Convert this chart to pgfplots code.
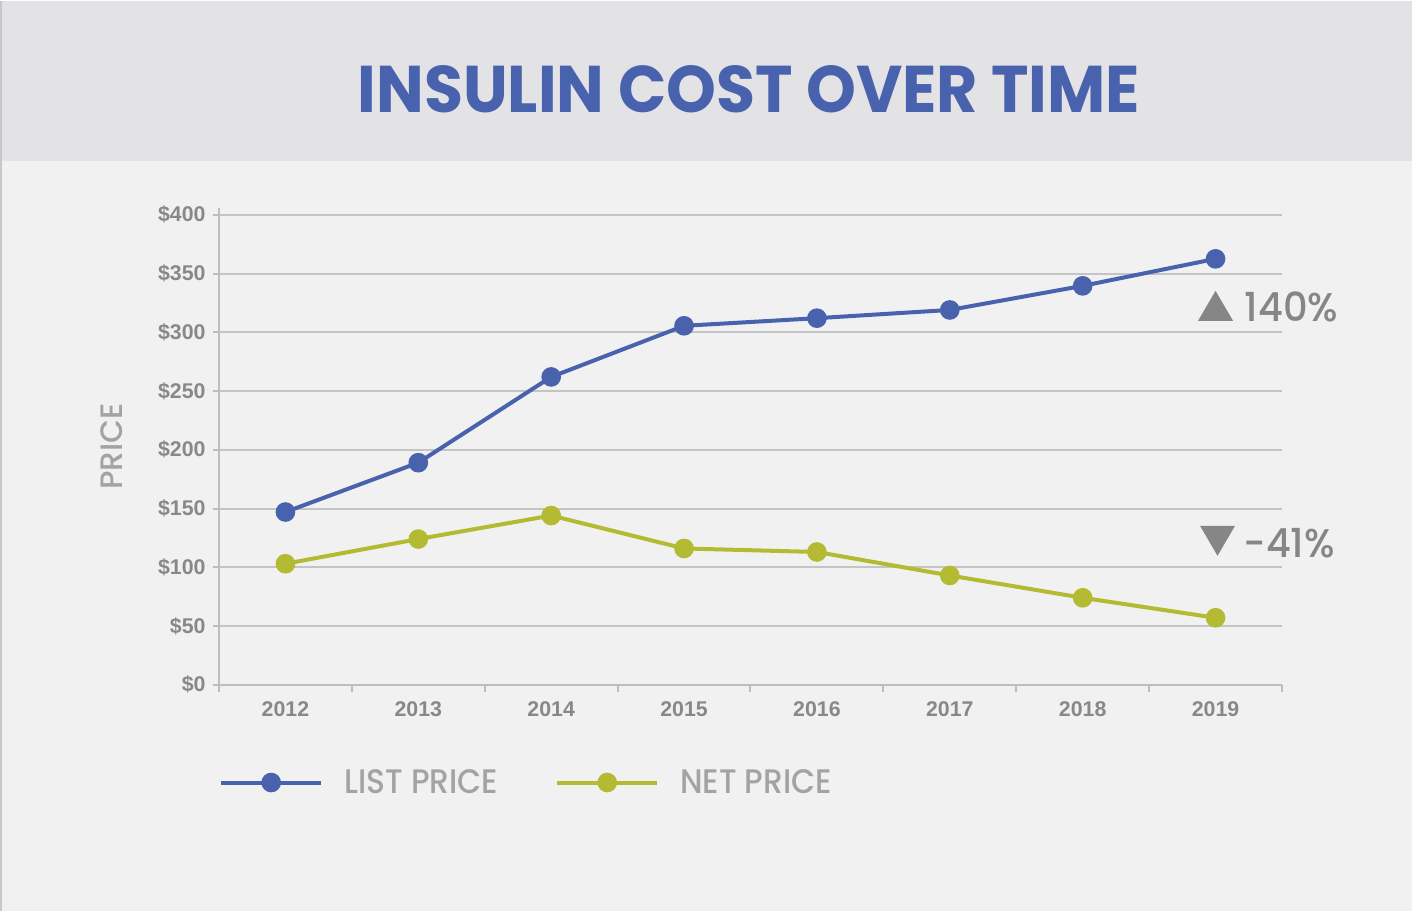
\documentclass[border=0pt]{standalone}
\usepackage{graphicx}
\usepackage{pgfplots}
\pgfplotsset{compat=1.18}
\usepackage{fontspec}
\setmainfont{Liberation Sans}
\newfontfamily\gothic[FakeStretch=0.92, UprightFont={* Medium}]{Poppins}
\newfontfamily\gothicA[FakeStretch=0.96, UprightFont={* Medium}]{Poppins}
\newfontfamily\gothicP[UprightFont={* Medium}]{Poppins}
\newfontfamily\poppins{Poppins}
\definecolor{listblue}{HTML}{4862AE}
\definecolor{netgreen}{HTML}{B4BB32}
\definecolor{bgc}{HTML}{F1F1F1}
\definecolor{banner}{HTML}{E3E3E5}
\definecolor{gridc}{HTML}{C4C4C4}
\definecolor{axisc}{HTML}{BDBDBD}
\definecolor{tickc}{HTML}{888888}
\definecolor{labc}{HTML}{A3A3A3}
\definecolor{annc}{HTML}{868686}
\definecolor{edgec}{HTML}{C8C8C8}
\begin{document}
\begin{tikzpicture}[x=1pt,y=1pt]
\fill[bgc] (0,0) rectangle (1412,910);
\fill[banner] (0,750) rectangle (1412,910);
\draw[line width=1.5pt, edgec] (0.75,0) -- (0.75,910);
\node[inner sep=0pt] at (749,822) {\resizebox{782pt}{47pt}{\color{listblue}\poppins\bfseries INSULIN COST OVER TIME}};
\begin{axis}[
  at={(219pt,226pt)}, anchor=south west,
  scale only axis, width=1063pt, height=477pt,
  xmin=2011.5, xmax=2019.5, ymin=0, ymax=406,
  axis lines=left,
  axis line style={-, color=axisc, line width=2pt},
  xtick={2012,2013,2014,2015,2016,2017,2018,2019},
  xticklabels={2012,2013,2014,2015,2016,2017,2018,2019},
  minor xtick={2011.5,2012.5,2013.5,2014.5,2015.5,2016.5,2017.5,2018.5,2019.5},
  major x tick style={draw=none},
  minor x tick style={axisc, line width=2pt},
  ytick={0,50,100,150,200,250,300,350,400},
  yticklabel={\$\pgfmathprintnumber{\tick}},
  y tick style={axisc, line width=2pt},
  tick align=outside,
  major tick length=6pt,
  minor tick length=7pt,
  ymajorgrids,
  major grid style={gridc, line width=2pt},
  /pgf/number format/assume math mode=true,
  ticklabel style={font=\fontsize{21.3}{24}\selectfont\bfseries, text=tickc},
  yticklabel style={xshift=-4pt},
  xticklabel style={yshift=-7pt},
  ylabel={PRICE},
  ylabel style={at={(axis description cs:-0.1008,0.5)}, anchor=center, font=\gothicP\fontsize{31}{34}\selectfont, text=labc},
  legend style={at={(axis description cs:0,-0.205)}, anchor=west, draw=none, fill=none,
    font=\gothic\fontsize{34}{38}\selectfont, text=labc, inner sep=0pt,
    /tikz/every odd column/.append style={column sep=19pt},
    /tikz/every even column/.append style={column sep=55pt}},
  legend columns=2,
  legend cell align=left,
  legend image code/.code={\draw[mark repeat=2,mark phase=2] plot coordinates {(0pt,0pt) (50pt,0pt) (100pt,0pt)};},
  clip=false,
]
\addplot[listblue, line width=4pt, mark=*, mark size=7.8pt, mark options={solid, fill=listblue, draw=none}]
  coordinates {(2012,147) (2013,189) (2014,262) (2015,305.5) (2016,312) (2017,319) (2018,339.5) (2019,362.5)};
\addlegendentry{LIST PRICE}
\addplot[netgreen, line width=4pt, mark=*, mark size=7.8pt, mark options={solid, fill=netgreen, draw=none}]
  coordinates {(2012,103) (2013,124) (2014,144) (2015,116) (2016,113) (2017,93) (2018,74) (2019,57)};
\addlegendentry{NET PRICE}
\fill[annc] (axis cs:2019,322.5) ++(-17.5pt,-15pt) -- ++(35pt,0pt) -- ++(-17.5pt,30pt) -- cycle;
\node[anchor=west, inner sep=0pt, text=annc, font=\gothicA\fontsize{40}{44}\selectfont] at (axis cs:2019.22,321.5) {140\%};
\fill[annc] (axis cs:2019.015,122.5) ++(-17.5pt,15pt) -- ++(35pt,0pt) -- ++(-17.5pt,-30pt) -- cycle;
\node[anchor=west, inner sep=0pt, text=annc, font=\gothicA\fontsize{40}{44}\selectfont] at (axis cs:2019.21,120.5) {-41\%};
\end{axis}
\end{tikzpicture}
\end{document}
